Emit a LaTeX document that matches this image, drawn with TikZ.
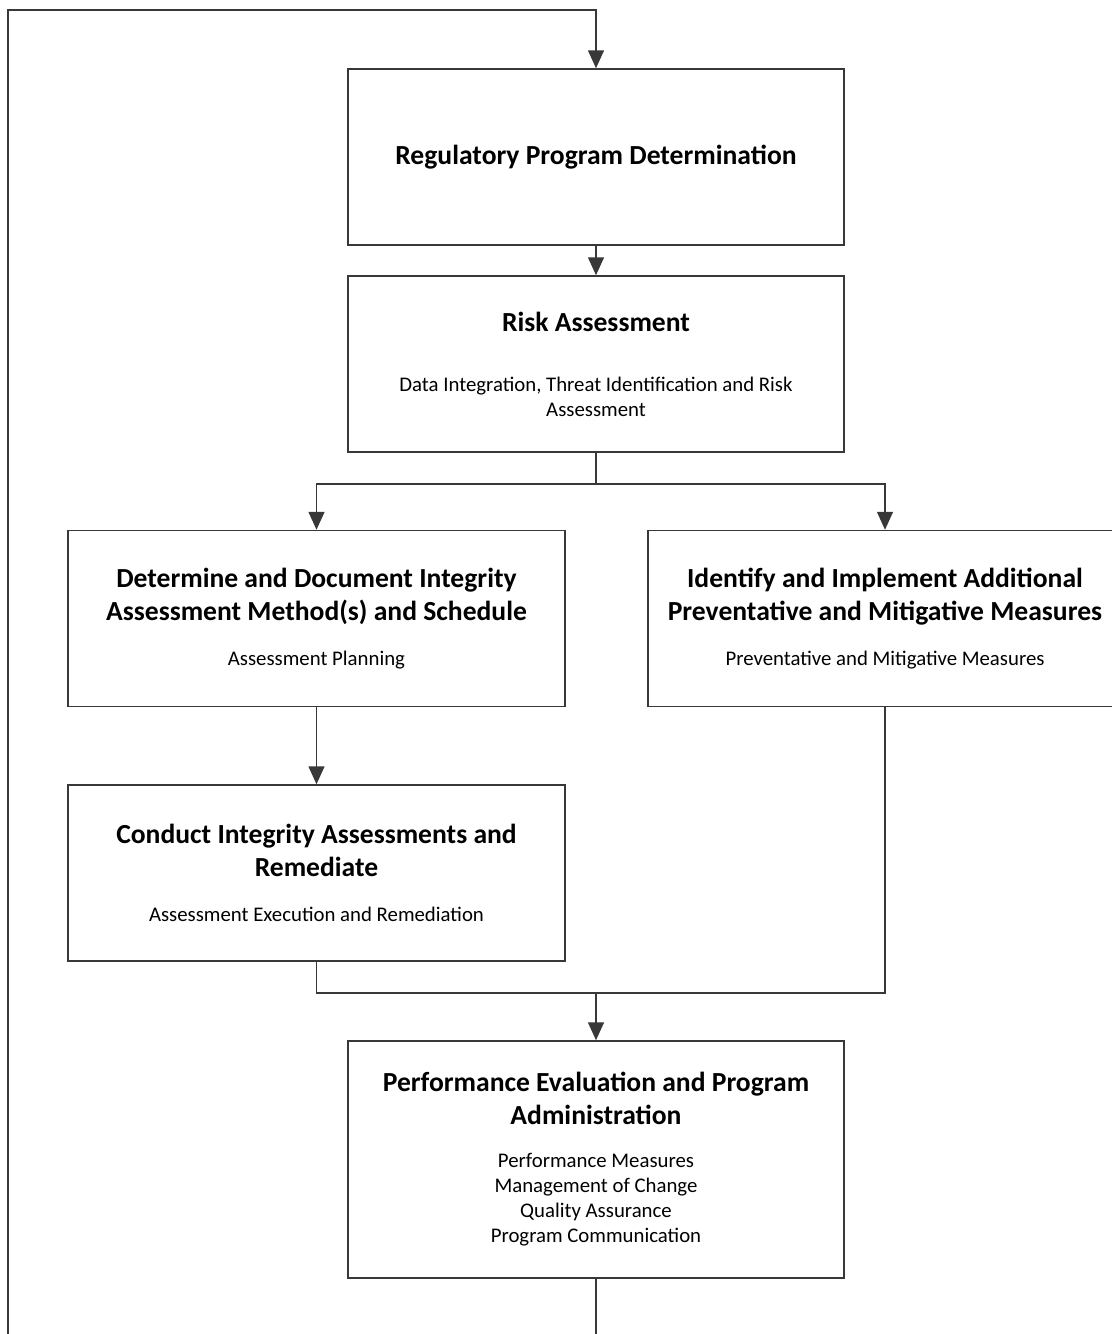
\documentclass[tikz,border=0pt]{standalone}
\usepackage{fontspec}
\setmainfont{Carlito}
\usepackage{xcolor}
\colorlet{LINECOLOR}{black!78}
\usetikzlibrary{arrows.meta,positioning}
\newcommand{\titlefont}{\fontsize{13.8}{16.5}\selectfont\bfseries}
\newcommand{\subfont}{\fontsize{10.4}{12.5}\selectfont}
\tikzset{
  box-style/.style = {
    rectangle, draw=LINECOLOR, line width=0.75pt,
    align=flush center, inner xsep=0pt, inner ysep=2pt,
    text width=#1,
    minimum height=88pt
  },
  box-style/.default = 248pt,
  line-style/.style = {
    draw=LINECOLOR, line width=0.75pt
  },
  arrow-style/.style = {
    line-style, -{Triangle[width=8pt,length=9pt]}
  },
  every edge/.style = {arrow-style}
}

\begin{document}
\begin{tikzpicture}[x=0.5pt,y=-0.5pt]
    \useasboundingbox (0,0) rectangle (1112,1334);
    \clip (0,0) rectangle (1112,1334);

    %%% boxes
    \node[box-style] (reg) at (596,157)
      {{\titlefont Regulatory Program Determination\par}};
    \node[box-style] (risk) at (596,364)
      {{\titlefont Risk Assessment\par}\vspace{17.5pt}
       {\subfont Data Integration, Threat Identification and Risk\\
       Assessment\par}};
    \node[box-style=248.5pt] (plan) at (316.5,618.5)
      {{\titlefont Determine and Document Integrity\\
       Assessment Method(s) and Schedule\par}\vspace{10pt}
       {\subfont Assessment Planning\par}};
    \node[box-style=237pt] (prev) at (885,618.5)
      {{\titlefont Identify and Implement Additional\\
       Preventative and Mitigative Measures\par}\vspace{10pt}
       {\subfont Preventative and Mitigative Measures\par}};
    \node[box-style=248.5pt] (exec) at (316.5,873)
      {{\titlefont Conduct Integrity Assessments and\\
       Remediate\par}\vspace{10pt}
       {\subfont Assessment Execution and Remediation\par}};
    \node[box-style, minimum height=118.5pt] (perf) at (596,1159.5)
      {{\titlefont Performance Evaluation and Program\\
       Administration\par}\vspace{9pt}
       {\subfont Performance Measures\\
       Management of Change\\
       Quality Assurance\\
       Program Communication\par}};

    %%% junctions
    \coordinate (split) at (596,484);
    \coordinate (merge) at (596,993);
    \coordinate (loop-bottom) at (596,1350);
    \coordinate (loop-corner) at (8,1350);
    \coordinate (loop-top) at (8,10);

    %%% arrows
    % determination to risk
    \path (reg.south) edge (risk.north);
    % risk to planning and measures
    \draw[line-style] (risk.south) -- (split);
    \draw[arrow-style] (split) -| (plan.north);
    \draw[arrow-style] (split) -| (prev.north);
    % planning to execution
    \path (plan.south) edge (exec.north);
    % execution and measures to evaluation
    \draw[line-style] (exec.south) |- (merge);
    \draw[line-style] (prev.south) |- (merge);
    \path (merge) edge (perf.north);
    % evaluation back to determination
    \draw[arrow-style] (perf.south) -- (loop-bottom) -- (loop-corner)
      -- (loop-top) -| (reg.north);
\end{tikzpicture}
\end{document}
